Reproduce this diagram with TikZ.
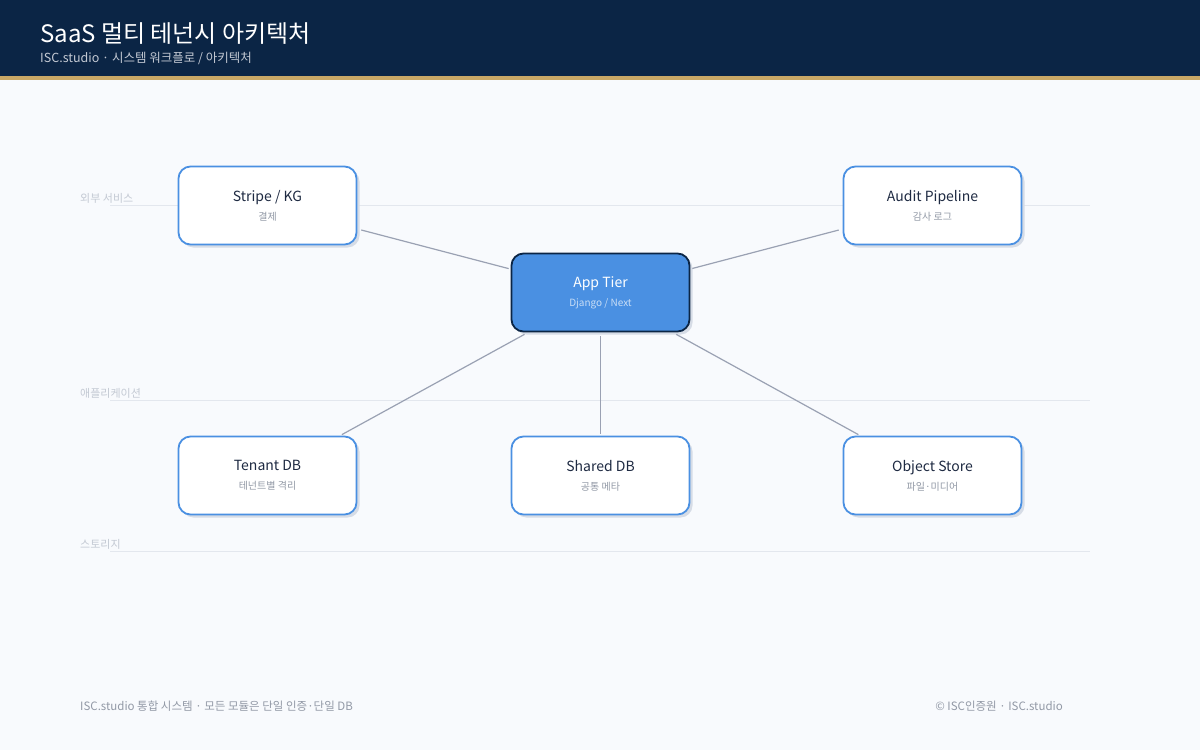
\documentclass[tikz,border=0pt]{standalone}
\usepackage{fontspec}
\setmainfont{Noto Sans CJK KR}
\usetikzlibrary{shadows}

\definecolor{navy}{HTML}{0B2545}
\definecolor{gold}{HTML}{C9A866}
\definecolor{pagebg}{HTML}{F8FAFD}
\definecolor{boxblue}{HTML}{4A90E2}
\definecolor{shade}{HTML}{D6DCE6}
\definecolor{inktext}{HTML}{1E2A42}
\definecolor{subtext}{HTML}{9299A6}
\definecolor{lanetext}{HTML}{C3C9D3}
\definecolor{laneline}{HTML}{E3E7EE}
\definecolor{wire}{HTML}{9AA1B3}

\newcommand{\fsz}[1]{\fontsize{#1}{#1}\selectfont}
\newcommand{\boxlabel}[2]{{\fsz{14}#1}\\[7pt]{\fsz{10}\color{subtext}#2}}

\tikzset{
  svc/.style={draw=boxblue, line width=1.8pt, fill=white, rounded corners=12pt,
    minimum width=178pt, minimum height=78pt, align=center, text=inktext,
    drop shadow={shadow xshift=3pt, shadow yshift=-3pt, fill=shade, opacity=1}},
  hub/.style={svc, draw=navy, fill=boxblue, text=white},
  wireline/.style={draw=wire, line width=1.2pt, shorten <=4pt, shorten >=2pt},
  lane/.style={anchor=base west, text=lanetext, font=\fsz{11}, inner sep=0pt},
}

\begin{document}
\begin{tikzpicture}[x=1pt,y=-1pt]
  \useasboundingbox (0,0) rectangle (1200,750);
  \fill[pagebg] (0,0) rectangle (1200,750);

  % header
  \fill[navy] (0,0) rectangle (1200,76);
  \fill[gold] (0,76) rectangle (1200,80);
  \node[anchor=base west, text=white, font=\fsz{24}, inner sep=0pt] (title) at (40,42) {SaaS 멀티 테넌시 아키텍처};
  \node[anchor=base west, text=lanetext, font=\fsz{12.5}, inner sep=0pt] (crumb) at (40,62) {ISC.studio · 시스템 워크플로 / 아키텍처};

  % lanes
  \draw[laneline, line width=0.8pt] (110,205) -- (1090,205);
  \draw[laneline, line width=0.8pt] (110,400) -- (1090,400);
  \draw[laneline, line width=0.8pt] (110,551) -- (1090,551);
  \node[lane] (lane1) at (80,202) {외부 서비스};
  \node[lane] (lane2) at (80,397) {애플리케이션};
  \node[lane] (lane3) at (80,548) {스토리지};

  % boxes
  \node[svc] (stripe) at (267.5,205.5) {\boxlabel{Stripe / KG}{결제}};
  \node[svc] (audit) at (932.5,205.5) {\boxlabel{Audit Pipeline}{감사 로그}};
  \node[hub] (app) at (600.5,292.5) {\boxlabel{App Tier}{\color{boxblue!30!white}Django / Next}};
  \node[svc] (tenant) at (267.5,475.5) {\boxlabel{Tenant DB}{테넌트별 격리}};
  \node[svc] (shared) at (600.5,475.5) {\boxlabel{Shared DB}{공통 메타}};
  \node[svc] (objstore) at (932.5,475.5) {\boxlabel{Object Store}{파일·미디어}};

  % wires
  \path[wireline] (stripe) -- (app);
  \path[wireline] (audit) -- (app);
  \path[wireline] (app) -- (tenant);
  \path[wireline] (app) -- (shared);
  \path[wireline] (app) -- (objstore);

  % footer
  \node[anchor=base west, text=subtext, font=\fsz{11.5}, inner sep=0pt] (footl) at (80,710) {ISC.studio 통합 시스템 · 모든 모듈은 단일 인증·단일 DB};
  \node[anchor=base east, text=subtext, font=\fsz{11.5}, inner sep=0pt] (footr) at (1063,710) {© ISC인증원 · ISC.studio};
\end{tikzpicture}
\end{document}
